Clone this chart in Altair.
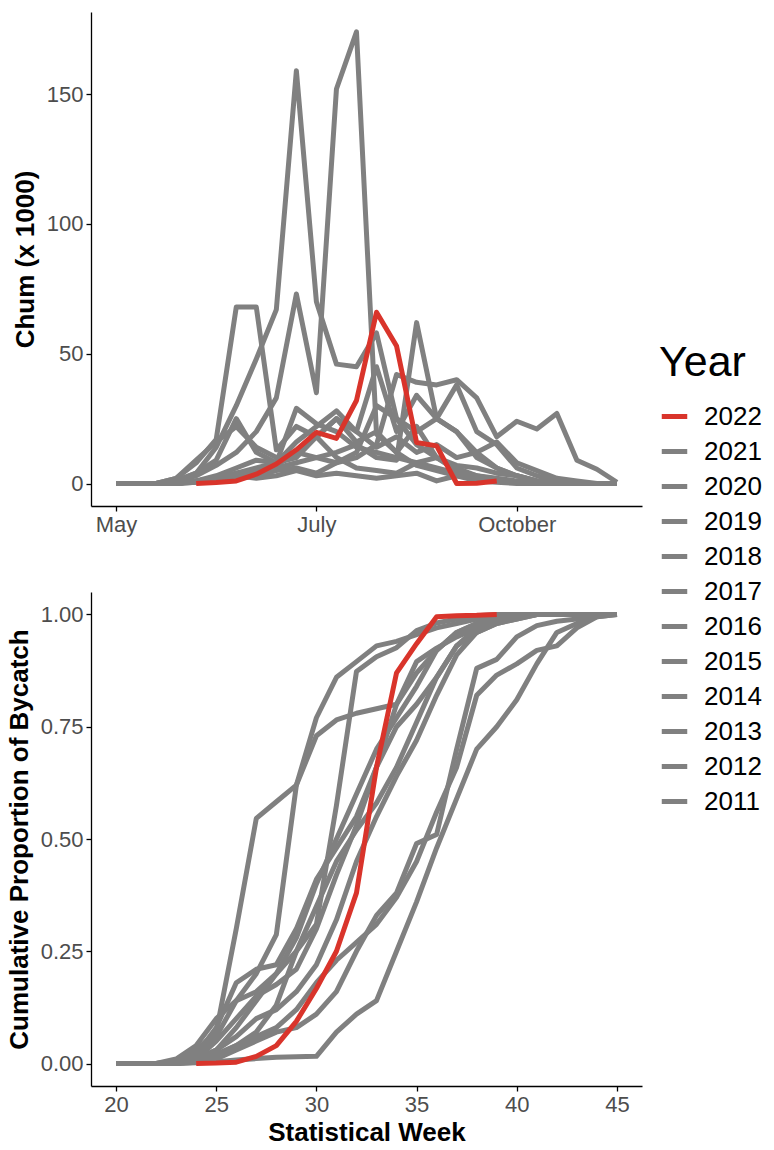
import altair as alt
import pandas as pd

# ---------------- data ----------------
WEEKS = list(range(20, 46))          # statistical weeks for historical years
RED_WEEKS = list(range(24, 40))      # 2022 season weeks
YEARS = ["2022", "2021", "2020", "2019", "2018", "2017", "2016",
         "2015", "2014", "2013", "2012", "2011"]
MONTH_TICKS = [20, 30, 40]
MONTH_LABELS = ["May", "July", "October"]

# weekly chum bycatch (x 1000), weeks 20..45
chum_2021 = [0, 0, 0, 1, 3, 7, 12, 20, 33, 73, 35, 152, 174, 19, 12, 22, 10, 6, 3, 1.5, 0.5, 0, 0, 0, 0, 0]
chum_2020 = [0, 0, 0, 1, 4, 14, 30, 48, 67, 159, 70, 46, 45, 58, 25, 15, 10, 5, 3, 2, 1, 0.5, 0, 0, 0, 0]
chum_2019 = [0, 0, 0, 2, 8, 17, 68, 68, 13, 22, 18, 10, 6, 5, 4, 8, 10, 7, 6, 4, 3, 1, 0.5, 0, 0, 0]
chum_2018 = [0, 0, 0, 0, 0.5, 1, 2, 3, 5, 6, 4, 8, 10, 15, 42, 39, 38, 40, 33, 18, 24, 21, 27, 9, 5.5, 0.5]
chum_2017 = [0, 0, 0, 0, 1, 2, 4, 5, 6, 8, 10, 12, 15, 10, 9, 62, 25, 20, 12, 6, 3, 1, 0.5, 0, 0, 0]
chum_2016 = [0, 0, 0, 1, 4, 9, 25, 12, 8, 29, 23, 20, 14, 12, 10, 8, 6, 4, 2, 1, 0.5, 0, 0, 0, 0, 0]
chum_2015 = [0, 0, 0, 2, 9, 16, 22, 14, 10, 12, 18, 25, 16, 20, 12, 7, 5, 3, 2, 1, 0.5, 0, 0, 0, 0, 0]
chum_2014 = [0, 0, 0, 0, 1, 2, 3, 2, 3, 5, 3, 4, 3, 2, 3, 4, 1, 3, 1, 0.5, 0, 0, 0, 0, 0, 0]
chum_2013 = [0, 0, 0, 0, 1, 2, 4, 6, 8, 10, 18, 25, 20, 45, 20, 34, 25, 20, 10, 6, 3, 1, 0, 0, 0, 0]
chum_2012 = [0, 0, 0, 0, 0.5, 1, 3, 5, 7, 12, 10, 8, 12, 30, 25, 20, 25, 38, 20, 15, 6, 3, 1, 0, 0, 0]
chum_2011 = [0, 0, 0, 0, 1, 3, 6, 9, 8, 16, 22, 28, 20, 14, 18, 12, 15, 10, 12, 16, 8, 5, 2, 1, 0, 0]
chum_2022 = [0, 0.4, 1, 3.6, 7.5, 13, 19.7, 17.4, 32, 66, 53, 15.8, 14.5, 0, 0.1, 1]

# cumulative proportion of bycatch, weeks 20..45
cum_2021 = [0, 0, 0, 0.002, 0.007, 0.02, 0.04, 0.07, 0.13, 0.25, 0.31, 0.575, 0.873, 0.906, 0.926, 0.964, 0.981, 0.99, 0.997, 1, 1, 1, 1, 1, 1, 1]
cum_2020 = [0, 0, 0, 0.005, 0.02, 0.06, 0.14, 0.2, 0.287, 0.62, 0.77, 0.86, 0.895, 0.93, 0.94, 0.955, 0.97, 0.98, 0.99, 0.995, 1, 1, 1, 1, 1, 1]
cum_2019 = [0, 0, 0, 0.005, 0.03, 0.07, 0.3, 0.546, 0.583, 0.62, 0.73, 0.765, 0.78, 0.79, 0.8, 0.895, 0.925, 0.95, 0.97, 0.985, 0.995, 1, 1, 1, 1, 1]
cum_2018 = [0, 0, 0, 0, 0.002, 0.004, 0.008, 0.011, 0.014, 0.015, 0.016, 0.07, 0.11, 0.14, 0.25, 0.36, 0.48, 0.59, 0.7, 0.75, 0.81, 0.89, 0.96, 0.98, 0.995, 1]
cum_2017 = [0, 0, 0, 0, 0.003, 0.01, 0.03, 0.05, 0.07, 0.08, 0.11, 0.16, 0.25, 0.33, 0.38, 0.49, 0.51, 0.7, 0.88, 0.9, 0.95, 0.975, 0.985, 0.99, 1, 1]
cum_2016 = [0, 0, 0, 0, 0.01, 0.05, 0.1, 0.15, 0.176, 0.21, 0.3, 0.42, 0.53, 0.66, 0.8, 0.87, 0.92, 0.96, 0.98, 0.99, 1, 1, 1, 1, 1, 1]
cum_2015 = [0, 0, 0, 0, 0.02, 0.08, 0.18, 0.21, 0.22, 0.3, 0.41, 0.48, 0.55, 0.66, 0.75, 0.8, 0.86, 0.93, 0.96, 0.98, 0.99, 1, 1, 1, 1, 1]
cum_2014 = [0, 0, 0, 0.01, 0.04, 0.1, 0.14, 0.16, 0.2, 0.28, 0.4, 0.5, 0.6, 0.7, 0.77, 0.84, 0.92, 0.96, 0.98, 0.99, 1, 1, 1, 1, 1, 1]
cum_2013 = [0, 0, 0, 0, 0.01, 0.03, 0.06, 0.1, 0.12, 0.16, 0.22, 0.32, 0.45, 0.55, 0.64, 0.72, 0.82, 0.91, 0.96, 0.98, 0.99, 1, 1, 1, 1, 1]
cum_2012 = [0, 0, 0, 0, 0.005, 0.02, 0.04, 0.06, 0.08, 0.12, 0.18, 0.23, 0.27, 0.31, 0.37, 0.45, 0.56, 0.66, 0.82, 0.865, 0.89, 0.92, 0.93, 0.97, 0.995, 1]
cum_2011 = [0, 0, 0, 0, 0.01, 0.03, 0.08, 0.14, 0.2, 0.25, 0.35, 0.45, 0.52, 0.58, 0.66, 0.76, 0.86, 0.93, 0.97, 0.985, 0.995, 1, 1, 1, 1, 1]
cum_2022 = [0, 0.001, 0.003, 0.016, 0.04, 0.094, 0.167, 0.25, 0.38, 0.66, 0.87, 0.935, 0.995, 0.997, 0.998, 1.0]

RED = "#D9342B"
GRAY = "#808080"

chum = {"2021": chum_2021, "2020": chum_2020, "2019": chum_2019, "2018": chum_2018,
        "2017": chum_2017, "2016": chum_2016, "2015": chum_2015, "2014": chum_2014,
        "2013": chum_2013, "2012": chum_2012, "2011": chum_2011}
cum = {"2021": cum_2021, "2020": cum_2020, "2019": cum_2019, "2018": cum_2018,
       "2017": cum_2017, "2016": cum_2016, "2015": cum_2015, "2014": cum_2014,
       "2013": cum_2013, "2012": cum_2012, "2011": cum_2011}


def to_long(series, weeks):
    rows = []
    for yr, vals in series.items():
        for w, v in zip(weeks, vals):
            rows.append({"Year": yr, "Week": w, "Value": v})
    return pd.DataFrame(rows)


top_gray = to_long(chum, WEEKS)
top_red = to_long({"2022": chum_2022}, RED_WEEKS)
bot_gray = to_long(cum, WEEKS)
bot_red = to_long({"2022": cum_2022}, RED_WEEKS)

FONT = "Liberation Sans"
W, H = 551, 494

color = alt.Color(
    "Year:N",
    scale=alt.Scale(domain=YEARS, range=[RED] + [GRAY] * 11),
    legend=alt.Legend(
        title="Year", orient="none", legendX=568, legendY=330,
        titleFontSize=43, titleFontWeight="normal", titleColor="black",
        titlePadding=16, labelFontSize=26, labelColor="black",
        symbolType="stroke", symbolStrokeWidth=5, symbolSize=650,
        symbolStrokeColor=GRAY, rowPadding=6, labelOffset=14,
    ),
)

line_kw = dict(strokeWidth=5, strokeJoin="round", strokeCap="butt")

x_top = alt.X("Week:Q", scale=alt.Scale(domain=[18.75, 46.25], nice=False, zero=False),
              axis=alt.Axis(title=None, values=MONTH_TICKS,
                            labelExpr="datum.value == 20 ? 'May' : datum.value == 30 ? 'July' : 'October'"))
y_top = alt.Y("Value:Q", scale=alt.Scale(domain=[-8.65, 181.65], nice=False, zero=False),
              axis=alt.Axis(title="Chum (x 1000)", values=[0, 50, 100, 150]))

top = alt.layer(
    alt.Chart(top_gray).mark_line(**line_kw).encode(x=x_top, y=y_top, color=color),
    alt.Chart(top_red).mark_line(**line_kw).encode(x=x_top, y=y_top, color=color),
).properties(width=W, height=H)

x_bot = alt.X("Week:Q", scale=alt.Scale(domain=[18.75, 46.25], nice=False, zero=False),
              axis=alt.Axis(title="Statistical Week", values=[20, 25, 30, 35, 40, 45],
                            titlePadding=4))
y_bot = alt.Y("Value:Q", scale=alt.Scale(domain=[-0.05, 1.05], nice=False, zero=False),
              axis=alt.Axis(title="Cumulative Proportion of Bycatch",
                            values=[0, 0.25, 0.5, 0.75, 1.0], format=".2f"))

bottom = alt.layer(
    alt.Chart(bot_gray).mark_line(**line_kw).encode(x=x_bot, y=y_bot, color=color),
    alt.Chart(bot_red).mark_line(**line_kw).encode(x=x_bot, y=y_bot, color=color),
).properties(width=W, height=H)

chart = alt.vconcat(top, bottom, spacing=57).resolve_scale(color="shared").resolve_legend(
    color="shared"
).properties(
    padding={"left": 6, "top": 12, "right": 0, "bottom": 0},
    background="white",
).configure_view(stroke=None).configure_axis(
    grid=False, domainColor="black", domainWidth=1.3, tickColor="black", tickWidth=1.3,
    tickSize=5, labelColor="#4D4D4D", labelFont=FONT, labelFontSize=22, labelPadding=3,
    titleFont=FONT, titleFontSize=26, titleFontWeight="bold", titleColor="black",
    titlePadding=8,
).configure_legend(labelFont=FONT, titleFont=FONT)

chart.save("out.html", embed_options={"renderer": "svg", "actions": False})
